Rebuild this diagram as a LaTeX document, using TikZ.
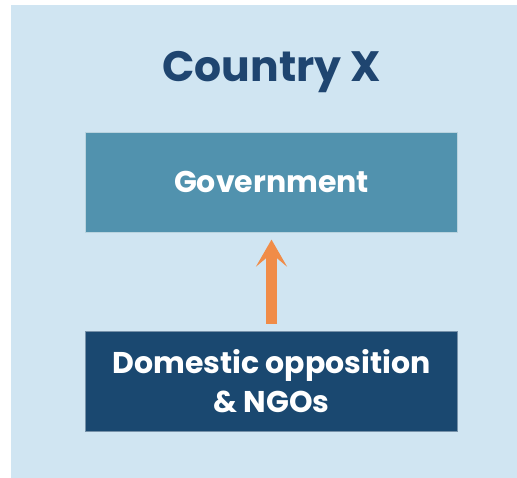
\documentclass[tikz,border=0pt]{standalone}
\usepackage{fontspec}
\setmainfont{Poppins}
\usepackage{tikz}
\usetikzlibrary{arrows.meta, positioning}
\definecolor{bgBlue}{HTML}{D0E5F2}
\definecolor{govBlue}{HTML}{5192AE}
\definecolor{oppBlue}{HTML}{1A4870}
\definecolor{titleBlue}{HTML}{1F4570}
\definecolor{arrowOrange}{HTML}{F08C48}
\tikzstyle{panel} = [fill=bgBlue, draw=none]
\tikzstyle{title} = [text=titleBlue, font=\fontsize{42.5}{50}\selectfont\bfseries]
\tikzstyle{box} = [rectangle, minimum width=371.5pt, minimum height=100pt, text=white, align=center, draw=white!60!govBlue, line width=0.6pt, font=\fontsize{30}{39}\selectfont\bfseries]
\tikzstyle{pushArrow} = [arrowOrange, line width=11pt, -{Stealth[length=27pt, width=31pt, inset=13pt]}, shorten <=7pt, shorten >=7pt]

\begin{document}
\begin{tikzpicture}[x=1pt, y=-1pt]
                    \useasboundingbox (0,0) rectangle (517,478);
                    \fill [panel] (11,5) rectangle (517,478);
                    \node (country) [title, anchor=base] at (271.5,82) {Country X};
                    \node (gov) [box, fill=govBlue] at (271.5,182.3) {Government};
                    \node (opp) [box, fill=oppBlue, draw=white!40!oppBlue] at (271.5,381.2) {Domestic opposition\\\& NGOs};
                    \draw [pushArrow] (opp.north) -- (gov.south);
                \end{tikzpicture}
\end{document}
